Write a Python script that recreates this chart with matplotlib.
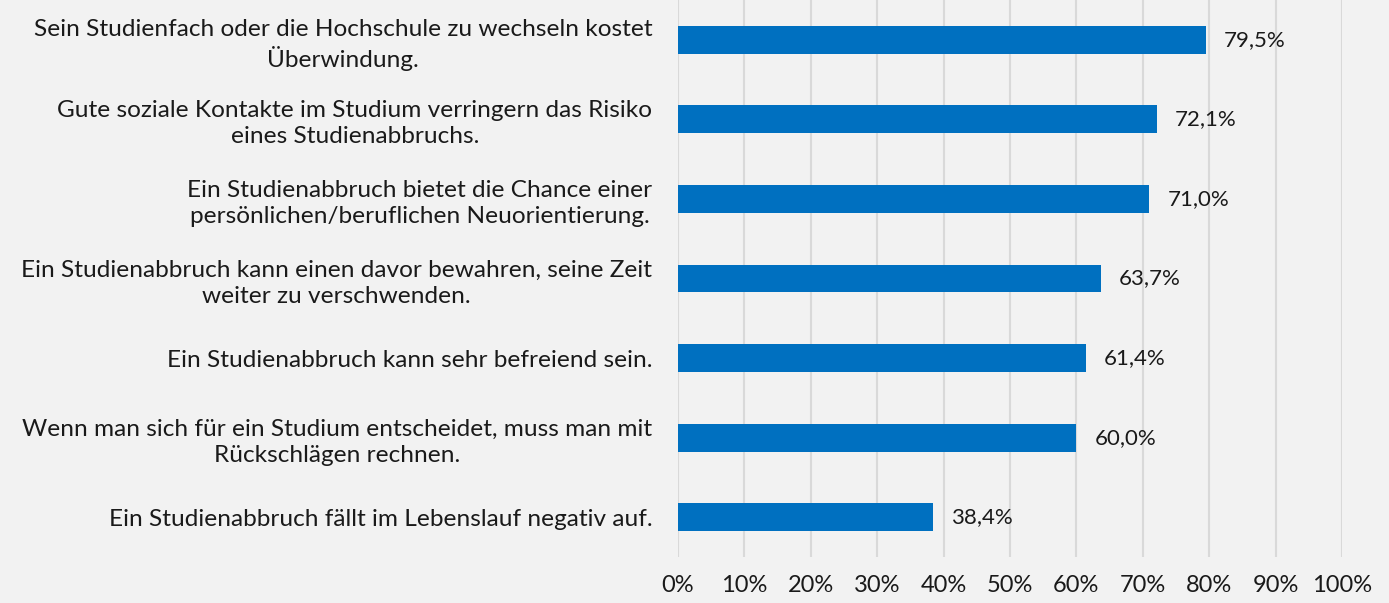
import matplotlib.pyplot as plt
import numpy as np

plt.rcParams['font.family'] = ['Lato', 'DejaVu Sans']

labels = [
    "Sein Studienfach oder die Hochschule zu wechseln kostet\nÜberwindung.",
    "Gute soziale Kontakte im Studium verringern das Risiko\neines Studienabbruchs.",
    "Ein Studienabbruch bietet die Chance einer\npersönlichen/beruflichen Neuorientierung.",
    "Ein Studienabbruch kann einen davor bewahren, seine Zeit\nweiter zu verschwenden.",
    "Ein Studienabbruch kann sehr befreiend sein.",
    "Wenn man sich für ein Studium entscheidet, muss man mit\nRückschlägen rechnen.",
    "Ein Studienabbruch fällt im Lebenslauf negativ auf.",
]
values = [79.5, 72.1, 71.0, 63.7, 61.4, 60.0, 38.4]
xticks = np.arange(0, 101, 10)

bg = "#F2F2F2"
fig = plt.figure(figsize=(13.89, 6.03), dpi=100, facecolor=bg)
ax = fig.add_axes([0.4881, 0.0763, 0.4781, 0.9237])
ax.set_facecolor(bg)

y = np.arange(len(values))
ax.barh(y, values, height=0.35, color="#0070C0", zorder=3)
for yi, v in zip(y, values):
    ax.text(v + 2.7, yi, f"{v:.1f}%".replace(".", ","), va="center", ha="left",
            fontsize=16, color="#1a1a1a")

ax.set_ylim(len(values) - 0.5, -0.5)
ax.set_xlim(0, 100)
ax.set_yticks(y)
ax.set_yticklabels(labels, fontsize=17.6, color="#1a1a1a", multialignment="center",
                   linespacing=1.3)
ax.set_xticks(xticks)
ax.set_xticklabels([f"{t}%" for t in xticks], fontsize=17, color="#1a1a1a")
ax.tick_params(axis="y", length=0, pad=18.5)
ax.tick_params(axis="x", length=0, pad=13)
ax.grid(axis="x", color="#D9D9D9", linewidth=1.5, zorder=0)
for s in ax.spines.values():
    s.set_visible(False)

plt.savefig("out.png", dpi=100, facecolor=bg)
